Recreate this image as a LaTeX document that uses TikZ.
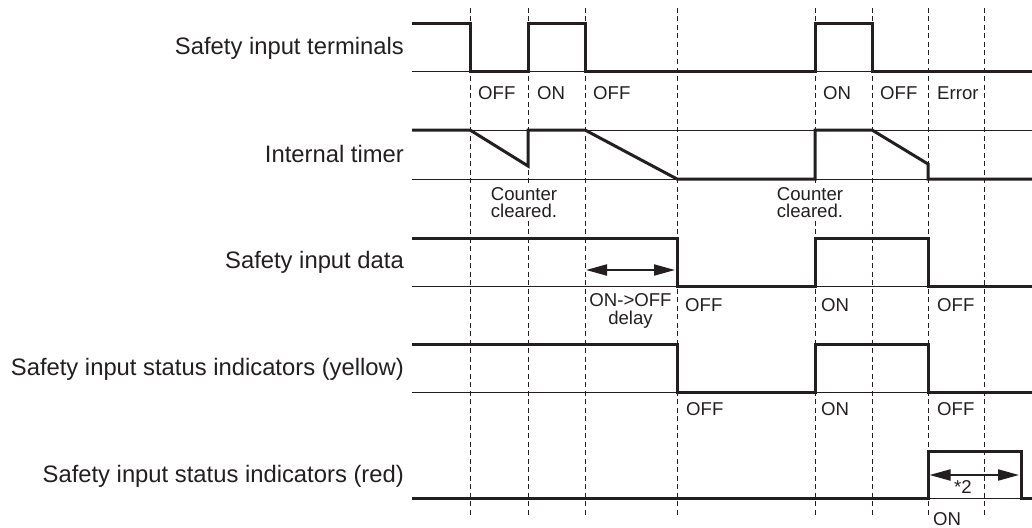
\documentclass[tikz,border=0pt]{standalone}
\usepackage{fontspec}
\setmainfont{Liberation Sans}
\usetikzlibrary{arrows.meta}
\definecolor{ink}{HTML}{231F20}
\begin{document}
\begin{tikzpicture}[x=1pt,y=-1pt,
  wave/.style={line width=3pt, line join=miter, draw=ink},
  baseline/.style={line width=1pt, draw=ink},
  gridline/.style={line width=1pt, draw=ink, dash pattern=on 5pt off 3.5pt},
  biglabel/.style={anchor=base east, font=\fontsize{23.8}{28}\selectfont, text=ink, inner sep=0pt},
  small/.style={anchor=base west, font=\fontsize{18.6}{17}\selectfont, text=ink, inner sep=0pt},
  smallc/.style={small, anchor=base},
  masked/.style={smallc, fill=white, inner xsep=1pt, inner ysep=0.5pt},
  dim/.style={line width=2pt, draw=ink, {Triangle[length=21pt,width=11pt]}-{Triangle[length=21pt,width=11pt]}}
]
\useasboundingbox (0,0) rectangle (1032,527);

% dashed time marks
\foreach \x in {470,528,585,677,815,872,928,984}
  \draw[gridline] (\x,8) -- (\x,515);

% row labels
\node[biglabel] (l1) at (404,55)  {Safety input terminals};
\node[biglabel] (l2) at (404,162) {Internal timer};
\node[biglabel] (l3) at (404,268) {Safety input data};
\node[biglabel] (l4) at (404,375) {Safety input status indicators (yellow)};
\node[biglabel] (l5) at (404,482) {Safety input status indicators (red)};

% row 1: safety input terminals
\draw[baseline] (412,71) -- (1032,71);
\draw[wave] (412,24) -- (470,24) -- (470,71) -- (528,71) -- (528,24) -- (585,24) -- (585,71)
  -- (815,71) -- (815,24) -- (872,24) -- (872,71) -- (1032,71);
\node[small] (a1) at (478,99) {OFF};
\node[small] (a2) at (537,99) {ON};
\node[small] (a3) at (593,99) {OFF};
\node[small] (a4) at (823,99) {ON};
\node[small] (a5) at (880,99) {OFF};
\node[small] (a6) at (937,99) {Error};

% row 2: internal timer
\draw[baseline] (412,130) -- (1032,130);
\draw[baseline] (412,179) -- (1032,179);
\draw[wave] (412,130) -- (470,130) -- (528,166) -- (528,130) -- (585,130) -- (677,179)
  -- (815,179) -- (815,130) -- (872,130) -- (928,164) -- (928,179) -- (1032,179);
\node[masked] (c1a) at (524,200) {Counter};
\node[masked] (c1b) at (524,217) {cleared.};
\node[masked] (c2a) at (810,200) {Counter};
\node[masked] (c2b) at (810,217) {cleared.};

% row 3: safety input data
\draw[baseline] (412,286) -- (1032,286);
\draw[wave] (412,238) -- (677,238) -- (677,286) -- (815,286) -- (815,238) -- (928,238)
  -- (928,286) -- (1032,286);
\coordinate (d1) at (586,270);
\coordinate (d2) at (675,270);
\draw[dim] (d1) -- (d2);
\node[smallc] (dl1) at (630.5,306) {ON->OFF};
\node[smallc] (dl2) at (630.5,324) {delay};
\node[small] (b1) at (685,311) {OFF};
\node[small] (b2) at (821,311) {ON};
\node[small] (b3) at (937,311) {OFF};

% row 4: yellow indicators
\draw[baseline] (412,392) -- (1032,392);
\draw[wave] (412,344) -- (677,344) -- (677,392) -- (815,392) -- (815,344) -- (928,344)
  -- (928,392) -- (1032,392);
\node[small] (y1) at (686,415) {OFF};
\node[small] (y2) at (821,415) {ON};
\node[small] (y3) at (937,415) {OFF};

% row 5: red indicators
\draw[baseline] (412,498) -- (1032,498);
\draw[wave] (412,498) -- (928,498) -- (928,451) -- (1021,451) -- (1021,498) -- (1032,498);
\coordinate (r1) at (929.5,475);
\coordinate (r2) at (1019,475);
\draw[dim] (r1) -- (r2);
\node[smallc] (s2) at (963,493) {*2};
\node[small] (r3) at (933,525) {ON};
\end{tikzpicture}
\end{document}
